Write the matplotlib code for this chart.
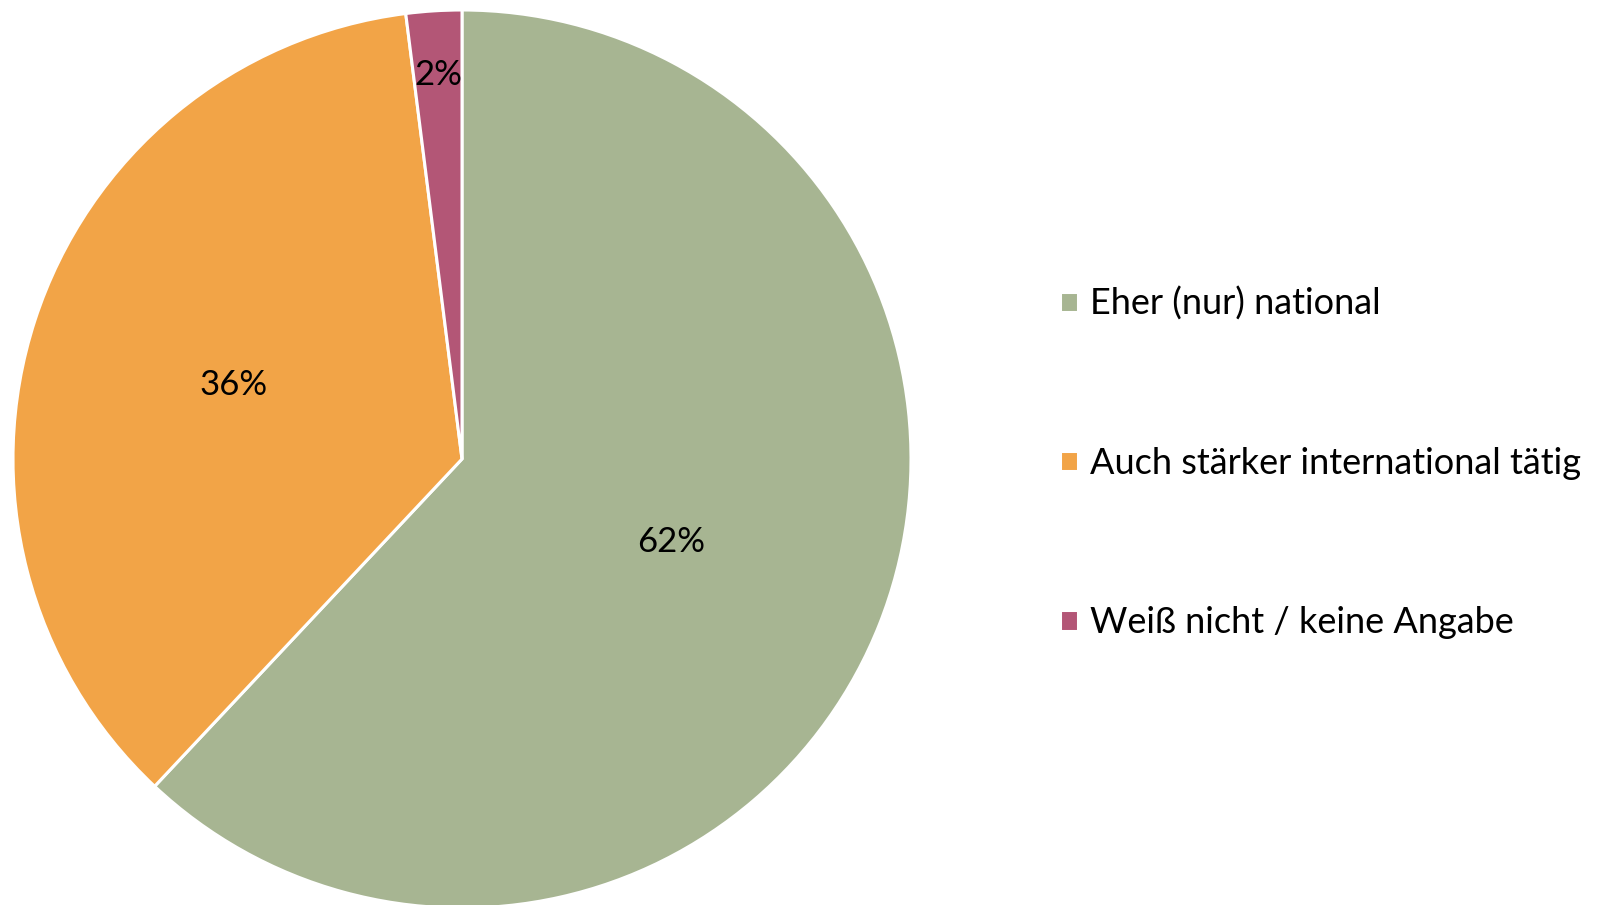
import matplotlib
matplotlib.use("Agg")
import matplotlib.pyplot as plt
import numpy as np

labels = ["Eher (nur) national", "Auch stärker international tätig", "Weiß nicht / keine Angabe"]
shares = [62, 36, 2]
colors = ["#A7B592", "#F2A447", "#B35676"]
# label distance from centre for each slice (fraction of radius)
label_dist = [0.5, 0.535, 0.857]

plt.rcParams["font.family"] = ["Lato", "DejaVu Sans"]

W, H = 1602, 905
fig = plt.figure(figsize=(W / 100, H / 100), dpi=100)
cx, cy, r = 462, 459, 449
ax = fig.add_axes([(cx - r) / W, (H - cy - r) / H, 2 * r / W, 2 * r / H])

wedges, texts = ax.pie(
    shares,
    colors=colors,
    startangle=90,
    counterclock=False,
    radius=1,
    wedgeprops=dict(edgecolor="white", linewidth=2.2),
)
ax.set_xlim(-1, 1)
ax.set_ylim(-1, 1)
ax.set_aspect("equal")
ax.axis("off")

for w, val, d in zip(wedges, shares, label_dist):
    mid = np.deg2rad((w.theta1 + w.theta2) / 2)
    ax.text(d * np.cos(mid), d * np.sin(mid), f"{val}%", ha="center", va="center",
            fontsize=25, color="black")

fig.legend(
    wedges, labels,
    loc="center left",
    bbox_to_anchor=(1027 / W, 1 - 463 / H),
    frameon=False,
    fontsize=26,
    handlelength=0.5,
    handleheight=0.5,
    handletextpad=0.35,
    labelspacing=3.5,
)

fig.savefig("out.png", dpi=100)
